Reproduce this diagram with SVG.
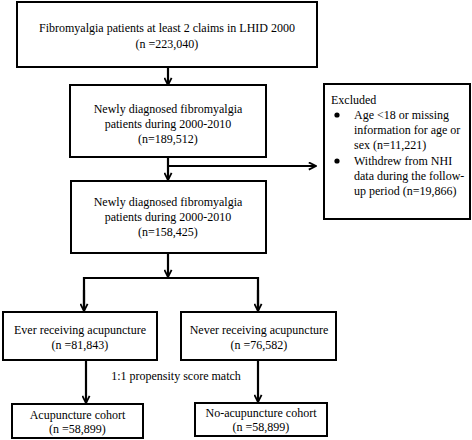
<svg xmlns="http://www.w3.org/2000/svg" width="472" height="440" viewBox="0 0 472 440">
<style>
.box{fill:#fff;stroke:#000;stroke-width:2}
.ln{fill:none;stroke:#000;stroke-width:2.2}
text{font-family:'Liberation Serif','Times New Roman',serif;font-size:12px;fill:#000}
.c{text-anchor:middle}
</style>
<defs>
<marker id="ah" viewBox="0 0 10 10" refX="9" refY="5" markerWidth="9" markerHeight="9" markerUnits="userSpaceOnUse" orient="auto">
<path d="M1,1 L9,5 L1,9" fill="none" stroke="#000" stroke-width="2"/>
</marker>
</defs>
<rect width="472" height="440" fill="#fff"/>
<g id="connectors">
<line class="ln" x1="168" y1="67" x2="168" y2="85" marker-end="url(#ah)"/>
<line class="ln" x1="168" y1="157" x2="168" y2="180" marker-end="url(#ah)"/>
<line class="ln" x1="168" y1="166" x2="316" y2="166" marker-end="url(#ah)"/>
<line class="ln" x1="168" y1="253" x2="168" y2="277" marker-end="url(#ah)"/>
<polyline class="ln" points="84,310 84,278 258,278 258,310"/>
<line class="ln" x1="84" y1="290" x2="84" y2="311" marker-end="url(#ah)"/>
<line class="ln" x1="258" y1="290" x2="258" y2="311" marker-end="url(#ah)"/>
<line class="ln" x1="86" y1="360" x2="86" y2="403" marker-end="url(#ah)"/>
<line class="ln" x1="258" y1="360" x2="258" y2="402" marker-end="url(#ah)"/>
<text class="c" x="176" y="380">1:1 propensity score match</text>
</g>
<g id="n1">
<rect class="box" x="17" y="2" width="300" height="65"/>
<text class="c" x="167" y="32">Fibromyalgia patients at least 2 claims in LHID 2000</text>
<text class="c" x="167" y="48">(n =223,040)</text>
</g>
<g id="n2">
<rect class="box" x="70" y="85" width="196" height="72"/>
<text class="c" x="168" y="113">Newly diagnosed fibromyalgia</text>
<text class="c" x="168" y="128">patients during 2000-2010</text>
<text class="c" x="168" y="143">(n=189,512)</text>
</g>
<g id="n3">
<rect class="box" x="71" y="181" width="195" height="72"/>
<text class="c" x="168" y="206">Newly diagnosed fibromyalgia</text>
<text class="c" x="168" y="221">patients during 2000-2010</text>
<text class="c" x="168" y="236">(n=158,425)</text>
</g>
<g id="excluded">
<rect class="box" x="324" y="84" width="146" height="135"/>
<text x="331" y="104">Excluded</text>
<circle cx="337" cy="115" r="2.6"/>
<text x="354" y="119">Age &lt;18 or missing</text>
<text x="354" y="134">information for age or</text>
<text x="354" y="149">sex (n=11,221)</text>
<circle cx="337" cy="161" r="2.6"/>
<text x="354" y="165">Withdrew from NHI</text>
<text x="354" y="180">data during the follow-</text>
<text x="354" y="195">up period (n=19,866)</text>
</g>
<g id="n4">
<rect class="box" x="3" y="312" width="154" height="48"/>
<text class="c" x="80" y="334">Ever receiving acupuncture</text>
<text class="c" x="80" y="349">(n =81,843)</text>
</g>
<g id="n5">
<rect class="box" x="181" y="312" width="155" height="48"/>
<text class="c" x="259" y="334">Never receiving acupuncture</text>
<text class="c" x="259" y="349">(n =76,582)</text>
</g>
<g id="n6">
<rect class="box" x="12" y="404" width="131" height="34"/>
<text class="c" x="77.5" y="419">Acupuncture cohort</text>
<text class="c" x="77.5" y="433">(n =58,899)</text>
</g>
<g id="n7">
<rect class="box" x="195" y="403" width="132" height="33"/>
<text class="c" x="261" y="417">No-acupuncture cohort</text>
<text class="c" x="261" y="431">(n =58,899)</text>
</g>
</svg>
